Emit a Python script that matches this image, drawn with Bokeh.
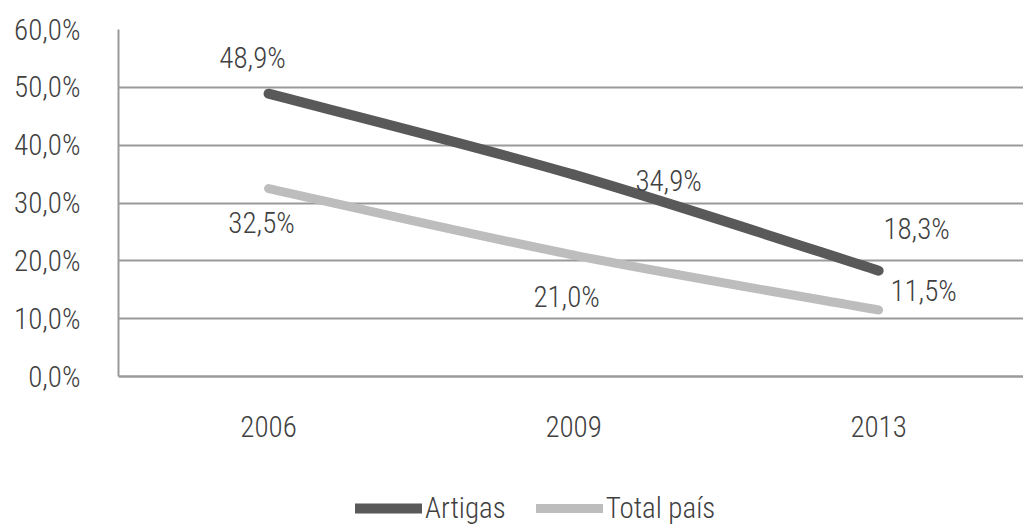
from bokeh.plotting import figure
from bokeh.models import Range1d, FixedTicker, Legend, LegendItem, ColumnDataSource, LinearAxis
from bokeh.core.properties import value
from bokeh.embed import file_html
from bokeh.resources import INLINE

years = ["2006", "2009", "2013"]
artigas = [48.9, 34.9, 18.3]
total_pais = [32.5, 21.0, 11.5]
y_ticks = [0, 10, 20, 30, 40, 50, 60]
y_tick_labels = ["0,0%", "10,0%", "20,0%", "30,0%", "40,0%", "50,0%", "60,0%"]

FONT = "'Roboto Condensed Light', 'Roboto Condensed', sans-serif"
FS = "29px"
TXT = "#404040"
GRID = "#9a9a9a"
DARK = "#595959"
LIGHT = "#bdbdbd"

xs = list(range(len(years)))

W, H = 1023, 525
TOP, LEFT = 29, 118
PLOT_H = 347            # pixel height of the 0..60 band
y_max = y_ticks[-1]
y_min = y_max - (H - TOP) * y_max / PLOT_H   # frame runs on below 0 to hold legend

p = figure(width=W, height=H, output_backend="svg", toolbar_location=None,
           x_range=Range1d(-0.492, 2.475), y_range=Range1d(y_min, y_max),
           x_axis_location=None, y_axis_location=None,
           min_border_left=LEFT, min_border_top=TOP, min_border_right=0,
           min_border_bottom=0)
p.outline_line_color = None
p.background_fill_color = "white"
p.border_fill_color = "white"

xaxis = LinearAxis(ticker=FixedTicker(ticks=xs), fixed_location=0,
                   major_label_overrides={i: y for i, y in zip(xs, years)})
yaxis = LinearAxis(ticker=FixedTicker(ticks=y_ticks), bounds=(0, y_max),
                   major_label_overrides={t: l for t, l in zip(y_ticks, y_tick_labels)})
p.add_layout(xaxis, "below")
p.add_layout(yaxis, "left")
for ax in (xaxis, yaxis):
    ax.major_tick_line_color = None
    ax.minor_tick_line_color = None
    ax.axis_line_color = GRID
    ax.axis_line_width = 2
    ax.major_label_text_font = FONT
    ax.major_label_text_font_size = FS
    ax.major_label_text_color = TXT
xaxis.major_label_standoff = 33
yaxis.major_label_standoff = 32
p.xgrid.grid_line_color = None
p.ygrid.ticker = FixedTicker(ticks=y_ticks)
p.ygrid.grid_line_color = GRID
p.ygrid.grid_line_width = 2


def smooth_segments(x, y):
    """Excel-like smoothing: cubic bezier control points from neighbours."""
    n = len(x)
    segs = dict(x0=[], y0=[], x1=[], y1=[], cx0=[], cy0=[], cx1=[], cy1=[])
    for i in range(n - 1):
        xp, yp = (x[i - 1], y[i - 1]) if i > 0 else (x[i], y[i])
        xn, yn = (x[i + 2], y[i + 2]) if i + 2 < n else (x[i + 1], y[i + 1])
        segs["x0"].append(x[i]); segs["y0"].append(y[i])
        segs["x1"].append(x[i + 1]); segs["y1"].append(y[i + 1])
        segs["cx0"].append(x[i] + (x[i + 1] - xp) / 6)
        segs["cy0"].append(y[i] + (y[i + 1] - yp) / 6)
        segs["cx1"].append(x[i + 1] - (xn - x[i]) / 6)
        segs["cy1"].append(y[i + 1] - (yn - y[i]) / 6)
    return ColumnDataSource(segs)


r_tot = p.bezier(x0="x0", y0="y0", x1="x1", y1="y1", cx0="cx0", cy0="cy0",
                 cx1="cx1", cy1="cy1", source=smooth_segments(xs, total_pais),
                 line_color=LIGHT, line_width=9, line_cap="round")
r_art = p.bezier(x0="x0", y0="y0", x1="x1", y1="y1", cx0="cx0", cy0="cy0",
                 cx1="cx1", cy1="cy1", source=smooth_segments(xs, artigas),
                 line_color=DARK, line_width=10, line_cap="round")

fmt = lambda v: f"{v:.1f}".replace(".", ",") + "%"
art_off_x = [-16, 95, 38]
art_off_y = [-36, 6, -42]
tot_off_x = [-7, -7, 45]
tot_off_y = [34, 42, -19]
p.text(x=xs, y=artigas, text=[fmt(v) for v in artigas], x_offset=art_off_x,
       y_offset=art_off_y, text_align="center", text_baseline="middle",
       text_font=value(FONT), text_font_size=FS, text_color=TXT)
p.text(x=xs, y=total_pais, text=[fmt(v) for v in total_pais], x_offset=tot_off_x,
       y_offset=tot_off_y, text_align="center", text_baseline="middle",
       text_font=value(FONT), text_font_size=FS, text_color=TXT)

legend = Legend(items=[LegendItem(label="Artigas", renderers=[r_art]),
                       LegendItem(label="Total país", renderers=[r_tot])],
                orientation="horizontal", location=(237, 0),
                glyph_width=67, glyph_height=20, label_standoff=3, spacing=30,
                label_text_font=FONT, label_text_font_size=FS,
                label_text_color=TXT, border_line_color=None,
                background_fill_alpha=0, padding=0, margin=0)
p.add_layout(legend, "center")

open("out.html", "w").write(file_html(p, INLINE))
